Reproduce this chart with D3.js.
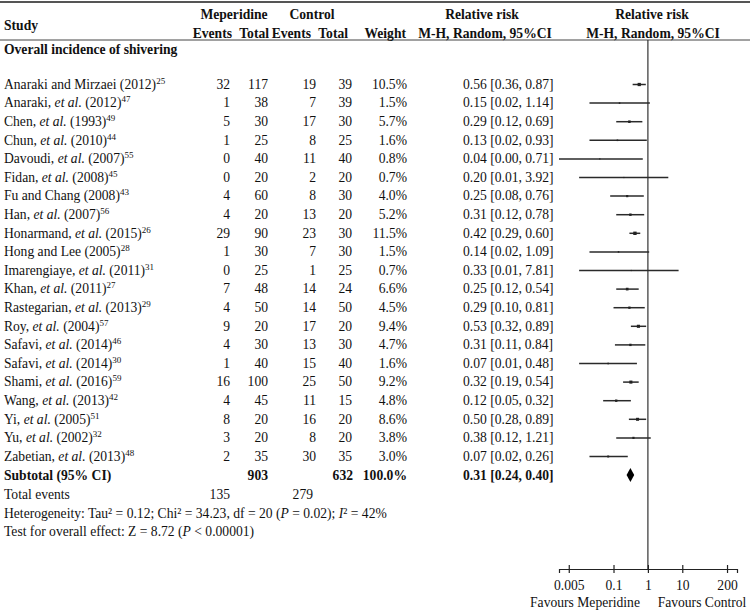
<!DOCTYPE html>
<html><head><meta charset="utf-8">
<script src="https://cdn.jsdelivr.net/npm/d3@7/dist/d3.min.js"></script>
<style>
html,body{margin:0;padding:0;background:#fff;}
svg text{font-family:"Liberation Serif","Times New Roman",serif;font-size:13.6px;fill:#111;}
.b{font-weight:bold;}
</style></head><body>
<svg id="c" width="750" height="610"></svg>
<script>
const studies = ["Anaraki and Mirzaei (2012)","Anaraki, et al. (2012)","Chen, et al. (1993)","Chun, et al. (2010)","Davoudi, et al. (2007)","Fidan, et al. (2008)","Fu and Chang (2008)","Han, et al. (2007)","Honarmand, et al. (2015)","Hong and Lee (2005)","Imarengiaye, et al. (2011)","Khan, et al. (2011)","Rastegarian, et al. (2013)","Roy, et al. (2004)","Safavi, et al. (2014)","Safavi, et al. (2014)","Shami, et al. (2016)","Wang, et al. (2013)","Yi, et al. (2005)","Yu, et al. (2002)","Zabetian, et al. (2013)"];
const refs = [25,47,49,44,55,45,43,56,26,28,31,27,29,57,46,30,59,42,51,32,48];
const mepEvents = [32,1,5,1,0,0,4,4,29,1,0,7,4,9,4,1,16,4,8,3,2];
const mepTotal = [117,38,30,25,40,20,60,20,90,30,25,48,50,20,30,40,100,45,20,20,35];
const ctlEvents = [19,7,17,8,11,2,8,13,23,7,1,14,14,17,13,15,25,11,16,8,30];
const ctlTotal = [39,39,30,25,40,20,30,20,30,30,25,24,50,20,30,40,50,15,20,20,35];
const weights = [10.5,1.5,5.7,1.6,0.8,0.7,4.0,5.2,11.5,1.5,0.7,6.6,4.5,9.4,4.7,1.6,9.2,4.8,8.6,3.8,3.0];
const rr = [0.56,0.15,0.29,0.13,0.04,0.20,0.25,0.31,0.42,0.14,0.33,0.25,0.29,0.53,0.31,0.07,0.32,0.12,0.50,0.38,0.07];
const ciLow = [0.36,0.02,0.12,0.02,0.0023,0.01,0.08,0.12,0.29,0.02,0.01,0.12,0.10,0.32,0.11,0.01,0.19,0.05,0.28,0.12,0.02];
const ciHigh = [0.87,1.14,0.69,0.93,0.71,3.92,0.76,0.78,0.60,1.09,7.81,0.54,0.81,0.89,0.84,0.48,0.54,0.32,0.89,1.21,0.26];
const pooled = [0.31,0.24,0.40];
const pooledTotals = [903,632];
const pooledWeight = "100.0%";
const totalEvents = [135,279];
const tickValues = [0.005,0.1,1,10,200];
const tickLabels = ["0.005","0.1","1","10","200"];
const favourLabels = ["Favours Meperidine","Favours Control"];

const svg = d3.select("#c");
const f2 = d3.format(".2f");
const x = d3.scaleLog().domain([0.0026,390]).range([559,737]).clamp(true);
const idx = d3.range(studies.length);
const y = d3.scalePoint().domain(idx).range([84,456]);
const ySub = 475, yTot = 494, yHet = 513, yTest = 531, yAxis = 569;

svg.append("line").attr("x1",0).attr("x2",750).attr("y1",2).attr("y2",2).attr("stroke","#555").attr("stroke-width",2);
svg.append("line").attr("x1",0).attr("x2",750).attr("y1",40).attr("y2",40).attr("stroke","#444").attr("stroke-width",1);

function txt(xp,yp,s,anchor,cls){
  return svg.append("text").attr("x",xp).attr("y",yp).attr("dy","0.35em")
    .attr("text-anchor",anchor||"start").attr("class",cls||null).text(s);
}
txt(4,25,"Study","start","b");
txt(234,14,"Meperidine","middle","b");
txt(312,14,"Control","middle","b");
txt(232,33,"Events","end","b");
txt(269,33,"Total","end","b");
txt(311,33,"Events","end","b");
txt(348,33,"Total","end","b");
txt(406,33,"Weight","end","b");
txt(482,14,"Relative risk","middle","b");
txt(485,33,"M-H, Random, 95%CI","middle","b");
txt(652,14,"Relative risk","middle","b");
txt(653,33,"M-H, Random, 95%CI","middle","b");
txt(4,49,"Overall incidence of shivering","start","b");

idx.forEach(i=>{
  const t = svg.append("text").attr("x",4).attr("y",y(i)).attr("dy","0.35em");
  const parts = studies[i].split("et al.");
  if(parts.length>1){
    t.append("tspan").text(parts[0]);
    t.append("tspan").attr("font-style","italic").text("et al.");
    t.append("tspan").text(parts[1]);
  } else t.append("tspan").text(studies[i]);
  t.append("tspan").attr("dy",-5).attr("font-size","9px").text(refs[i]);
  txt(230,y(i),mepEvents[i],"end");
  txt(268,y(i),mepTotal[i],"end");
  txt(316,y(i),ctlEvents[i],"end");
  txt(352,y(i),ctlTotal[i],"end");
  txt(407,y(i),d3.format(".1f")(weights[i])+"%","end");
  txt(463,y(i),f2(rr[i])+" ["+f2(ciLow[i])+", "+f2(ciHigh[i])+"]","start");
});

txt(4,ySub,"Subtotal (95% CI)","start","b");
txt(268,ySub,pooledTotals[0],"end","b");
txt(353,ySub,pooledTotals[1],"end","b");
txt(407,ySub,pooledWeight,"end","b");
txt(463,ySub,f2(pooled[0])+" ["+f2(pooled[1])+", "+f2(pooled[2])+"]","start","b");
txt(4,yTot,"Total events","start");
txt(230,yTot,totalEvents[0],"end");
txt(313,yTot,totalEvents[1],"end");

const het = svg.append("text").attr("x",4).attr("y",yHet).attr("dy","0.35em");
het.append("tspan").text("Heterogeneity: Tau² = 0.12; Chi² = 34.23, df = 20 (");
het.append("tspan").attr("font-style","italic").text("P");
het.append("tspan").text(" = 0.02); ");
het.append("tspan").attr("font-style","italic").text("I");
het.append("tspan").text("² = 42%");
const tst = svg.append("text").attr("x",4).attr("y",yTest).attr("dy","0.35em");
tst.append("tspan").text("Test for overall effect: Z = 8.72 (");
tst.append("tspan").attr("font-style","italic").text("P");
tst.append("tspan").text(" < 0.00001)");

svg.append("line").attr("x1",x(1)).attr("x2",x(1)).attr("y1",40).attr("y2",yAxis).attr("stroke","#333").attr("stroke-width",1.2);
const g = svg.append("g");
g.selectAll("line.ci").data(idx).join("line").attr("class","ci")
  .attr("x1",i=>x(ciLow[i])).attr("x2",i=>x(ciHigh[i]))
  .attr("y1",i=>y(i)+0.5).attr("y2",i=>y(i)+0.5)
  .attr("stroke","#2a2a2a").attr("stroke-width",1.5);
g.selectAll("rect.pt").data(idx).join("rect").attr("class","pt")
  .each(function(i){
    const s = 0.5 + Math.sqrt(weights[i])*0.85;
    d3.select(this).attr("x",x(rr[i])-s/2).attr("y",y(i)+0.5-s/2).attr("width",s).attr("height",s);
  }).attr("fill","#222");
const dh = 7;
svg.append("path").attr("d",
  `M${x(pooled[1])},${ySub} L${x(pooled[0])},${ySub-dh} L${x(pooled[2])},${ySub} L${x(pooled[0])},${ySub+dh} Z`)
  .attr("fill","#000");

const ax = svg.append("g").attr("transform",`translate(0,${yAxis})`)
  .call(d3.axisBottom(x).tickValues(tickValues).tickFormat((d,i)=>tickLabels[i]).tickSizeOuter(0).tickSize(4));
ax.select(".domain").attr("stroke","#222").attr("stroke-width",1.2);
ax.selectAll(".tick line").attr("y1",-4).attr("y2",4).attr("stroke","#222").attr("stroke-width",1.2);
ax.selectAll(".tick text").attr("y",11).attr("font-family","Liberation Serif, serif").attr("font-size","13.6px").attr("fill","#111");
txt(585,602,favourLabels[0],"middle");
txt(702,602,favourLabels[1],"middle");
</script></body></html>
